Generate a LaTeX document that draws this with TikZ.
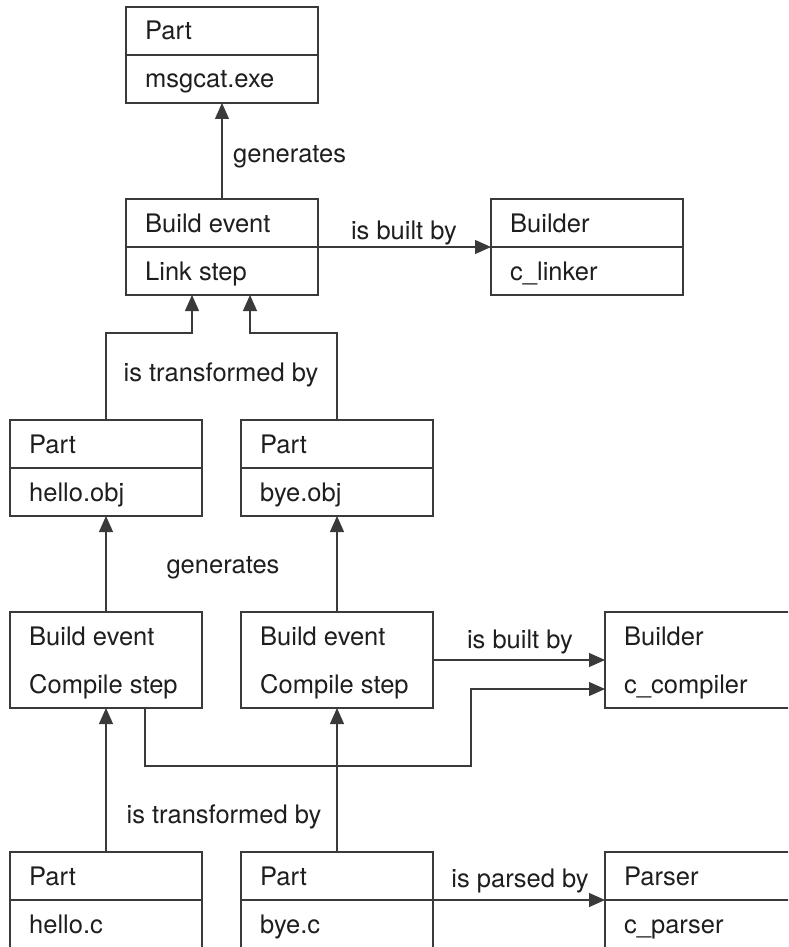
\documentclass[tikz,border=0pt]{standalone}
\usepackage{fontspec}
\setmainfont{TeX Gyre Heros}
\usetikzlibrary{arrows.meta}
\definecolor{linecol}{HTML}{3A3A3A}
\definecolor{textcol}{HTML}{1E1E1E}
\tikzset{
  box/.style={draw=linecol, line width=1.2pt, minimum width=192pt, minimum height=96pt,
    anchor=north west, inner sep=0pt, outer sep=0pt},
  txt/.style={anchor=base west, inner sep=0pt, text=textcol, font=\fontsize{25.5}{30}\selectfont},
  lbl/.style={anchor=base, inner sep=0pt, text=textcol, font=\fontsize{25.5}{30}\selectfont},
  plain/.style={draw=linecol, line width=1.2pt},
  conn/.style={draw=linecol, line width=1.2pt, -{Triangle[length=16pt,width=14pt]}},
}
\newcommand\umlbox[6]{%
  \node[box] (#1) at (#2,#3) {};
  \node[txt] (#1-t) at ([xshift=19pt,yshift=-33pt]#1.north west) {#4};
  \node[txt] (#1-b) at ([xshift=19pt,yshift=-81pt]#1.north west) {#5};
  \ifnum#6=1 \draw[plain] (#1.west) -- (#1.east);\fi
}
\begin{document}
\begin{tikzpicture}[x=1pt,y=-1pt]
\useasboundingbox (0,0) rectangle (788,947);
\clip (0,0) rectangle (788,947);
% boxes
\umlbox{msg}{126}{7}{Part}{msgcat.exe}{1}
\umlbox{link}{126}{199}{Build event}{Link step}{1}
\umlbox{linker}{491}{199}{Builder}{c\_linker}{1}
\umlbox{hobj}{10}{420}{Part}{hello.obj}{1}
\umlbox{bobj}{241}{420}{Part}{bye.obj}{1}
\umlbox{beone}{10}{612}{Build event}{Compile step}{0}
\umlbox{betwo}{241}{612}{Build event}{Compile step}{0}
\umlbox{comp}{605}{612}{Builder}{c\_compiler}{0}
\umlbox{hc}{10}{852}{Part}{hello.c}{1}
\umlbox{bc}{241}{852}{Part}{bye.c}{1}
\umlbox{pars}{605}{852}{Parser}{c\_parser}{1}
% helper coordinates
\coordinate (ja) at (192,333);
\coordinate (jb) at (250,333);
\coordinate (la) at (145,766);
\coordinate (lb) at (471,766);
% connectors
\draw[conn] (link.north) -- (msg.south);
\draw[conn] (link.east) -- (linker.west);
\draw[conn] (hobj.north) |- (ja) -- (ja |- link.south);
\draw[conn] (bobj.north) |- (jb) -- (jb |- link.south);
\draw[conn] (beone.north) -- (hobj.south);
\draw[conn] (betwo.north) -- (bobj.south);
\draw[conn] (betwo.east) -- (comp.west);
\draw[conn] (la |- beone.south) -- (la) -- (lb) |- ([yshift=-29pt]comp.west);
\draw[conn] (hc.north) -- (beone.south);
\draw[conn] (bc.north) -- (betwo.south);
\draw[conn] (bc.east) -- (pars.west);
% labels
\node[txt] (l1) at (233,162) {generates};
\node[lbl] (l2) at (404,239) {is built by};
\node[lbl] (l3) at (221,381) {is transformed by};
\node[lbl] (l4) at (223,573) {generates};
\node[lbl] (l5) at (520,648) {is built by};
\node[lbl] (l6) at (224,823) {is transformed by};
\node[lbl] (l7) at (520,887) {is parsed by};
\end{tikzpicture}
\end{document}
